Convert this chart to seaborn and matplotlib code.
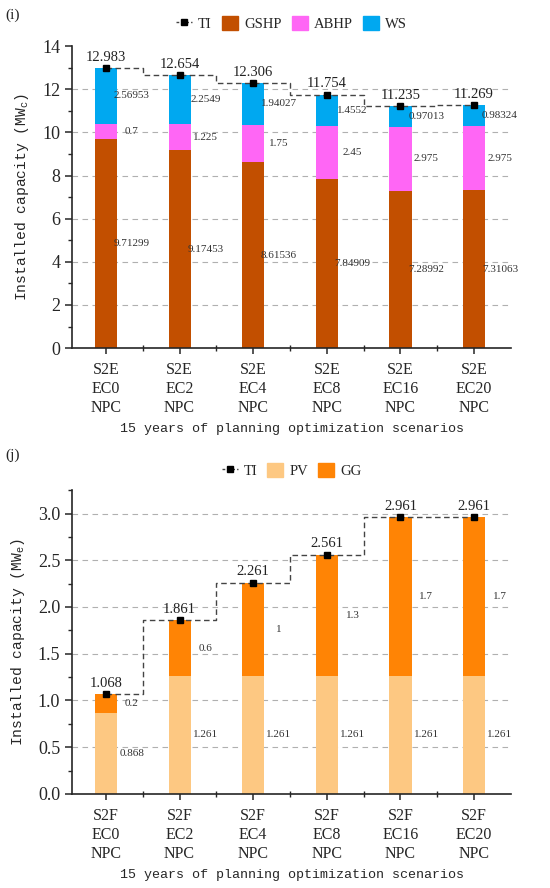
import matplotlib
matplotlib.use('Agg')
import matplotlib.pyplot as plt
from matplotlib.lines import Line2D
from matplotlib.patches import Patch
from matplotlib.ticker import MultipleLocator
import numpy as np
import pandas as pd
import seaborn as sns

# data
scen_top = ['S2E\nEC0\nNPC', 'S2E\nEC2\nNPC', 'S2E\nEC4\nNPC', 'S2E\nEC8\nNPC', 'S2E\nEC16\nNPC', 'S2E\nEC20\nNPC']
gshp = [9.71299, 9.17453, 8.61536, 7.84909, 7.28992, 7.31063]
abhp = [0.7, 1.225, 1.75, 2.45, 2.975, 2.975]
ws = [2.56953, 2.2549, 1.94027, 1.4552, 0.97013, 0.98324]
ti_top = [12.983, 12.654, 12.306, 11.754, 11.235, 11.269]

scen_bot = ['S2F\nEC0\nNPC', 'S2F\nEC2\nNPC', 'S2F\nEC4\nNPC', 'S2F\nEC8\nNPC', 'S2F\nEC16\nNPC', 'S2F\nEC20\nNPC']
pv = [0.868, 1.261, 1.261, 1.261, 1.261, 1.261]
gg = [0.2, 0.6, 1, 1.3, 1.7, 1.7]
ti_bot = [1.068, 1.861, 2.261, 2.561, 2.961, 2.961]

sns.set_style('ticks')
plt.rcParams['font.family'] = ['Liberation Serif', 'DejaVu Serif']
plt.rcParams['mathtext.fontset'] = 'custom'
plt.rcParams['mathtext.rm'] = 'Liberation Mono'

C_GSHP = '#C24F00'
C_ABHP = '#FF66F5'
C_WS = '#00A8F0'
C_PV = '#FDC882'
C_GG = '#FF8405'
LBL = '#333333'
MONO = 'Liberation Mono'

fig = plt.figure(figsize=(5.5, 8.88), dpi=100)
ax1 = fig.add_axes([0.131, 0.608, 0.798, 0.340])
ax2 = fig.add_axes([0.131, 0.106, 0.798, 0.342])


def stacked(ax, cats, layers, colors):
    # draw cumulative sums from top layer to bottom layer so they stack
    cum = np.cumsum(np.array(layers), axis=0)
    for k in range(len(layers) - 1, -1, -1):
        d = pd.DataFrame({'cat': cats, 'val': cum[k]})
        sns.barplot(data=d, x='cat', y='val', color=colors[k], width=0.3,
                    saturation=1, ax=ax, zorder=2, linewidth=0)
    return cum


def seg_labels(ax, layers, cum, fmt_list):
    for k, lay in enumerate(layers):
        for i, v in enumerate(lay):
            mid = cum[k][i] - v / 2
            ax.text(i + 0.35, mid, fmt_list[k][i], ha='center', va='center',
                    fontsize=8, color=LBL, zorder=4)


def ti_line(ax, ti, off):
    x = np.arange(len(ti))
    ax.plot(x, ti, drawstyle='steps-mid', ls=(0, (4, 2.5)), color='#444444',
            lw=1, zorder=3)
    ax.plot(x, ti, ls='none', marker='s', ms=5, color='black', zorder=5)
    for i, v in enumerate(ti):
        ax.annotate(f'{v:.3f}', (i, v), xytext=(0, off), textcoords='offset points',
                    ha='center', va='bottom', fontsize=10.5, color='#222222')


def style_axis(ax, ymax, major, minor, grid_vals, fmt, ylabel):
    ax.set_xlim(-0.46, 5.5)
    ax.set_ylim(0, ymax)
    ax.yaxis.set_major_locator(MultipleLocator(major))
    ax.yaxis.set_minor_locator(MultipleLocator(minor))
    ax.set_xticks(np.arange(0.5, 5.5, 1), minor=True)
    ax.yaxis.set_major_formatter(fmt)
    for g in grid_vals:
        ax.axhline(g, color='#b0b0b0', ls=(0, (5, 4)), lw=0.8, zorder=1)
    sns.despine(ax=ax)
    ax.spines['left'].set_linewidth(1.2)
    ax.spines['bottom'].set_linewidth(1.2)
    ax.tick_params(axis='y', which='major', labelsize=13, length=5, width=1.1)
    ax.tick_params(axis='y', which='minor', length=3, width=1)
    ax.tick_params(axis='x', which='major', labelsize=11.5, length=4, width=1.1, pad=6)
    ax.tick_params(axis='x', which='minor', length=4, width=1, direction='inout')
    ax.set_xlabel('15 years of planning optimization scenarios', fontsize=9.6,
                  labelpad=5, family=MONO)
    ax.set_ylabel(ylabel, fontsize=10.5, labelpad=8, family=MONO)
    for t in ax.get_xticklabels():
        t.set_linespacing(1.25)


# top panel
layers_t = [gshp, abhp, ws]
cum_t = stacked(ax1, scen_top, layers_t, [C_GSHP, C_ABHP, C_WS])
seg_labels(ax1, layers_t, cum_t,
           [[f'{v:g}' for v in gshp], [f'{v:g}' for v in abhp], [f'{v:g}' for v in ws]])
ti_line(ax1, ti_top, 3)
style_axis(ax1, 14, 2, 1, [2, 4, 6, 8, 10, 12], '{x:.0f}',
           r'Installed capacity (MW$_{\mathrm{c}}$)')

# bottom panel
layers_b = [pv, gg]
cum_b = stacked(ax2, scen_bot, layers_b, [C_PV, C_GG])
seg_labels(ax2, layers_b, cum_b, [[f'{v:g}' for v in pv], [f'{v:g}' for v in gg]])
ti_line(ax2, ti_bot, 3)
style_axis(ax2, 3.25, 0.5, 0.25, [0.5, 1.0, 1.5, 2.0, 2.5, 3.0], '{x:.1f}',
           r'Installed capacity (MW$_{\mathrm{e}}$)')

ti_handle = Line2D([], [], color='#444444', ls=(0, (2, 1.5)), lw=1, marker='s',
                   ms=5, mfc='black', mec='black')
leg_kw = dict(ncol=4, frameon=False, fontsize=10.5, handlelength=1.1, handleheight=1.1,
              columnspacing=0.7, handletextpad=0.4, loc='center')
fig.legend([ti_handle, Patch(color=C_GSHP), Patch(color=C_ABHP), Patch(color=C_WS)],
           ['TI', 'GSHP', 'ABHP', 'WS'], bbox_to_anchor=(0.53, 0.973), **leg_kw)
fig.legend([ti_handle, Patch(color=C_PV), Patch(color=C_GG)],
           ['TI', 'PV', 'GG'], bbox_to_anchor=(0.53, 0.470), **leg_kw)

fig.text(0.01, 0.983, '(i)', fontsize=11, va='center')
fig.text(0.01, 0.487, '(j)', fontsize=11, va='center')

fig.savefig('out.png', dpi=100)
